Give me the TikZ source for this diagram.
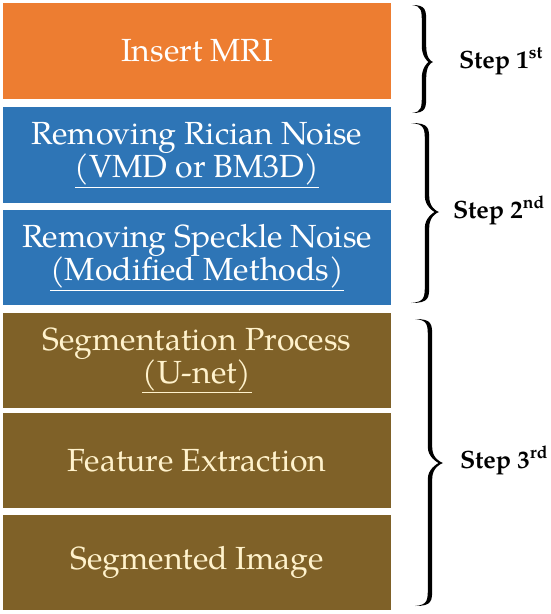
\documentclass[tikz,border=0pt]{standalone}
\usepackage{fontspec}
\setmainfont{texgyrepagella}[Extension=.otf,UprightFont=*-regular,BoldFont=*-bold,ItalicFont=*-italic,BoldItalicFont=*-bolditalic]
\definecolor{orangeC}{HTML}{ED7D31}
\definecolor{blueC}{HTML}{2E75B6}
\definecolor{brownC}{HTML}{7F6128}
\definecolor{creamC}{HTML}{FFF2CC}
\newcommand\bracefill[6]{% x0, xs, xt, yt, ym, yb
\fill ({#1},{#4}) .. controls ({#2+2.2},{#4}) and ({#2+2.2},{#4+5}) .. ({#2+2.2},{#4+18})
 -- ({#2+2.2},{#5-16}) .. controls ({#2+2.2},{#5-5}) and ({#3-3},{#5-1}) .. ({#3},{#5})
 .. controls ({#3-3},{#5+1}) and ({#2+2.2},{#5+5}) .. ({#2+2.2},{#5+16})
 -- ({#2+2.2},{#6-18}) .. controls ({#2+2.2},{#6-5}) and ({#2+2.2},{#6}) .. ({#1},{#6})
 .. controls ({#2-2.2},{#6-1}) and ({#2-2.2},{#6-6}) .. ({#2-2.2},{#6-18})
 -- ({#2-2.2},{#5+16}) .. controls ({#2-2.2},{#5+6}) and ({#3-6},{#5+1}) .. ({#3-4.5},{#5})
 .. controls ({#3-6},{#5-1}) and ({#2-2.2},{#5-6}) .. ({#2-2.2},{#5-16})
 -- ({#2-2.2},{#4+18}) .. controls ({#2-2.2},{#4+6}) and ({#2-2.2},{#4+1}) .. cycle;}
\begin{document}
\begin{tikzpicture}[x=1pt,y=-1pt,
  stagebox/.style={minimum width=388pt, minimum height=95pt, inner sep=0pt, align=center,
    font=\fontsize{32}{33}\selectfont, text=white},
  steplbl/.style={font=\fontsize{25}{28}\selectfont\bfseries, anchor=base west, inner sep=0pt}]
\useasboundingbox (0,0) rectangle (550,614);
\node[stagebox, fill=orangeC, minimum height=96pt] (mri) at (197,51) {Insert MRI};
\node[stagebox, fill=blueC, minimum height=96pt] (rician) at (197,155) {Removing Rician Noise\\\underline{(VMD or BM3D)}};
\node[stagebox, fill=blueC] (speckle) at (197,257.5) {Removing Speckle Noise\\\underline{(Modified Methods)}};
\node[stagebox, fill=brownC, text=creamC] (seg) at (197,360.5) {Segmentation Process\\\underline{(U-net)}};
\node[stagebox, fill=brownC, text=creamC] (feat) at (197,460.5) {Feature Extraction};
\node[stagebox, fill=brownC, text=creamC] (segimg) at (197,562.5) {Segmented Image};
\bracefill{412}{424}{433}{5}{62}{113}
\bracefill{411}{427}{439}{123}{212}{303}
\bracefill{415}{430}{443}{319}{463}{606}
\node[steplbl] (s1) at (459,68) {Step 1\textsuperscript{st}};
\node[steplbl] (s2) at (453,218) {Step 2\textsuperscript{nd}};
\node[steplbl] (s3) at (460,468) {Step 3\textsuperscript{rd}};
\end{tikzpicture}
\end{document}
